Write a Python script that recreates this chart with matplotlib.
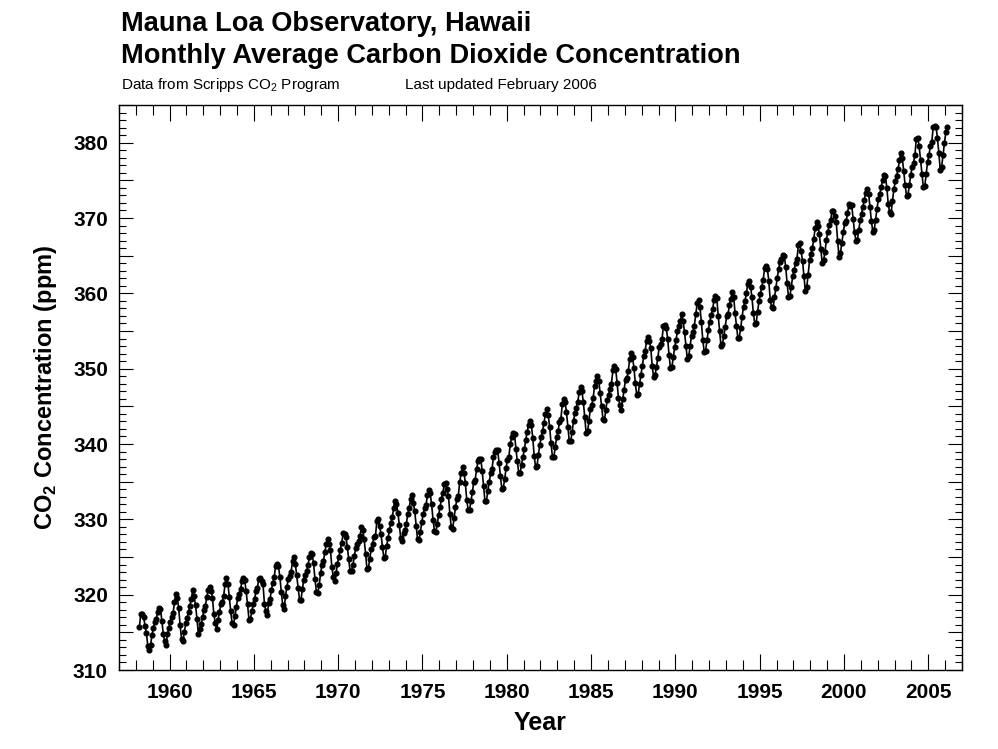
import matplotlib
matplotlib.use("Agg")
import matplotlib.pyplot as plt
from matplotlib import font_manager
from matplotlib.ticker import MultipleLocator, FuncFormatter
import numpy as np

# ---------------- data ----------------
first_year = 1958
first_month = 3  # March 1958
co2_monthly = [
    315.71, 317.45, 317.50, 317.10, 315.86, 314.93, 313.20, 312.66, 313.33, 314.67,  # 1958 (Mar-Dec)
    315.62, 316.38, 316.71, 317.72, 318.29, 318.15, 316.54, 314.80, 313.84, 313.26, 314.80, 315.58,  # 1959
    316.43, 316.97, 317.58, 319.02, 320.03, 319.59, 318.18, 315.91, 314.16, 313.83, 315.00, 316.19,  # 1960
    316.93, 317.70, 318.54, 319.48, 320.58, 319.77, 318.57, 316.79, 314.80, 315.38, 316.10, 317.01,  # 1961
    317.94, 318.56, 319.68, 320.63, 321.01, 320.55, 319.58, 317.40, 316.26, 315.42, 316.69, 317.69,  # 1962
    318.74, 319.08, 319.86, 321.39, 322.25, 321.47, 319.74, 317.77, 316.21, 315.99, 317.12, 318.31,  # 1963
    319.57, 320.07, 320.73, 321.77, 322.25, 321.89, 320.44, 318.70, 316.70, 316.79, 317.79, 318.71,  # 1964
    319.44, 320.44, 320.89, 322.13, 322.16, 321.87, 321.39, 318.81, 317.81, 317.30, 318.87, 319.42,  # 1965
    320.62, 321.59, 322.39, 323.87, 324.01, 323.75, 322.39, 320.37, 318.64, 318.10, 319.79, 321.08,  # 1966
    322.07, 322.50, 323.04, 324.42, 325.00, 324.09, 322.55, 320.92, 319.31, 319.31, 320.72, 321.96,  # 1967
    322.57, 323.15, 323.89, 325.02, 325.57, 325.36, 324.14, 322.03, 320.41, 320.25, 321.31, 322.84,  # 1968
    324.00, 324.42, 325.64, 326.66, 327.38, 326.70, 325.89, 323.67, 322.38, 321.78, 322.85, 324.11,  # 1969
    325.03, 325.99, 326.87, 328.13, 328.07, 327.66, 326.35, 324.69, 323.10, 323.16, 323.98, 325.13,  # 1970
    326.17, 326.68, 327.18, 327.78, 328.92, 328.57, 327.34, 325.46, 323.36, 323.57, 324.80, 326.01,  # 1971
    326.77, 327.63, 327.75, 329.72, 330.07, 329.09, 328.05, 326.32, 324.93, 325.06, 326.50, 327.55,  # 1972
    328.54, 329.56, 330.30, 331.50, 332.48, 332.07, 330.87, 329.31, 327.51, 327.18, 328.16, 328.64,  # 1973
    329.35, 330.71, 331.48, 332.65, 333.19, 332.20, 331.07, 329.15, 327.33, 327.28, 328.31, 329.58,  # 1974
    330.73, 331.46, 331.90, 333.17, 333.94, 333.45, 331.97, 329.95, 328.50, 328.34, 329.37, 330.58,  # 1975
    331.59, 332.75, 333.52, 334.64, 334.77, 334.00, 333.06, 330.68, 328.95, 328.75, 330.15, 331.62,  # 1976
    332.66, 333.13, 334.95, 336.13, 336.93, 336.17, 334.88, 332.56, 331.29, 331.27, 332.41, 333.60,  # 1977
    334.95, 335.25, 336.66, 337.69, 338.03, 338.01, 336.41, 334.41, 332.37, 332.41, 333.75, 334.90,  # 1978
    336.14, 336.69, 338.27, 338.95, 339.21, 339.26, 337.54, 335.75, 333.98, 334.19, 335.31, 336.81,  # 1979
    337.90, 338.34, 340.01, 340.93, 341.48, 341.33, 339.40, 337.70, 336.19, 336.15, 337.27, 338.32,  # 1980
    339.29, 340.55, 341.61, 342.53, 343.03, 342.54, 340.78, 338.44, 336.95, 337.08, 338.58, 339.88,  # 1981
    340.96, 341.73, 342.81, 343.97, 344.63, 343.79, 342.32, 340.09, 338.28, 338.29, 339.60, 340.90,  # 1982
    341.68, 342.90, 343.33, 345.25, 346.03, 345.63, 344.19, 342.27, 340.35, 340.38, 341.59, 343.05,  # 1983
    344.10, 344.79, 345.52, 346.84, 347.63, 346.98, 345.53, 343.55, 341.40, 341.67, 343.10, 344.70,  # 1984
    345.21, 346.16, 347.74, 348.34, 349.06, 348.38, 346.71, 345.02, 343.27, 343.13, 344.49, 345.88,  # 1985
    346.56, 347.28, 348.01, 349.77, 350.38, 349.93, 348.16, 346.08, 345.22, 344.51, 345.93, 347.22,  # 1986
    348.52, 348.73, 349.73, 351.31, 352.09, 351.53, 350.11, 348.08, 346.52, 346.59, 347.96, 349.16,  # 1987
    350.39, 351.64, 352.40, 353.69, 354.21, 353.72, 352.69, 350.40, 348.92, 349.13, 350.20, 351.41,  # 1988
    352.91, 353.27, 353.96, 355.64, 355.86, 355.37, 353.99, 351.81, 350.05, 350.25, 351.49, 352.85,  # 1989
    353.80, 355.04, 355.73, 356.32, 357.32, 356.34, 354.84, 353.01, 351.31, 351.62, 353.07, 354.33,  # 1990
    354.84, 355.73, 357.23, 358.66, 359.13, 358.13, 356.19, 353.85, 352.25, 352.35, 353.81, 355.12,  # 1991
    356.25, 357.11, 357.86, 359.09, 359.59, 359.33, 357.01, 354.94, 352.96, 353.32, 354.32, 355.57,  # 1992
    357.00, 357.31, 358.47, 359.27, 360.19, 359.52, 357.33, 355.64, 354.03, 354.12, 355.41, 356.91,  # 1993
    358.24, 358.92, 359.99, 361.23, 361.65, 360.90, 359.46, 357.37, 355.98, 356.07, 357.53, 358.98,  # 1994
    359.92, 360.86, 361.83, 363.30, 363.69, 363.19, 361.64, 359.12, 358.17, 357.99, 359.45, 360.68,  # 1995
    362.07, 363.24, 364.17, 364.57, 365.13, 364.92, 363.55, 361.38, 359.54, 359.58, 360.89, 362.24,  # 1996
    363.09, 364.03, 364.51, 366.35, 366.64, 365.59, 364.31, 362.25, 360.29, 360.82, 362.49, 364.38,  # 1997
    365.26, 365.98, 367.24, 368.66, 369.42, 368.99, 367.82, 365.95, 364.02, 364.40, 365.52, 367.13,  # 1998
    368.18, 369.07, 369.68, 370.99, 370.96, 370.30, 369.45, 366.90, 364.81, 365.37, 366.72, 368.10,  # 1999
    369.29, 369.55, 370.60, 371.82, 371.58, 371.70, 369.86, 368.13, 367.00, 367.03, 368.37, 369.67,  # 2000
    370.59, 371.51, 372.43, 373.37, 373.85, 373.21, 371.51, 369.61, 368.18, 368.45, 369.76, 371.24,  # 2001
    372.53, 373.20, 374.12, 375.02, 375.76, 375.52, 374.01, 371.85, 370.75, 370.55, 372.25, 373.79,  # 2002
    374.88, 375.64, 376.45, 377.73, 378.60, 377.93, 376.28, 374.41, 372.98, 373.00, 374.35, 375.69,  # 2003
    376.79, 377.36, 378.39, 380.50, 380.62, 379.55, 377.76, 375.83, 374.05, 374.22, 375.84, 377.44,  # 2004
    378.34, 379.61, 380.08, 382.05, 382.24, 382.08, 380.67, 378.67, 376.42, 376.80, 378.31, 379.96,  # 2005
    381.37, 382.02,  # 2006 (Jan-Feb)
]
x_major_ticks = [1960, 1965, 1970, 1975, 1980, 1985, 1990, 1995, 2000, 2005]
y_tick_labels = [310, 320, 330, 340, 350, 360, 370, 380]

# decimal dates at mid-month
month_index = np.arange(len(co2_monthly)) + (first_month - 1)
dates = first_year + (month_index + 0.5) / 12.0

# ---------------- fonts ----------------
names = {f.name for f in font_manager.fontManager.ttflist}
main_font = "Liberation Sans" if "Liberation Sans" in names else "DejaVu Sans"
narrow_font = "Liberation Sans Narrow" if "Liberation Sans Narrow" in names else main_font

plt.rcParams["font.family"] = [main_font, "DejaVu Sans"]
plt.rcParams["mathtext.fontset"] = "custom"
plt.rcParams["mathtext.rm"] = narrow_font
plt.rcParams["mathtext.bf"] = main_font + ":bold"

fig = plt.figure(figsize=(9.98, 7.49), dpi=100)
ax = fig.add_axes([119 / 998, 1 - 670 / 749, (962 - 119) / 998, (670 - 105) / 749])

ax.plot(dates, co2_monthly, color="black", lw=1.2, marker="o", ms=3.4,
        markerfacecolor="black", markeredgecolor="black")

ax.set_xlim(1957, 2007)
ax.set_ylim(310, 385)

ax.xaxis.set_major_locator(MultipleLocator(5))
ax.xaxis.set_minor_locator(MultipleLocator(1))
ax.yaxis.set_major_locator(MultipleLocator(5))
ax.yaxis.set_minor_locator(MultipleLocator(1))
ax.yaxis.set_major_formatter(FuncFormatter(lambda v, p: f"{int(round(v))}" if int(round(v)) in y_tick_labels else ""))
ax.xaxis.set_major_formatter(FuncFormatter(lambda v, p: f"{int(round(v))}" if int(round(v)) in x_major_ticks else ""))

ax.tick_params(axis="both", which="both", direction="in", top=True, right=True, width=0.8, color="black")
ax.tick_params(axis="x", which="major", length=11.5, pad=9)
ax.tick_params(axis="x", which="minor", length=7.5)
ax.tick_params(axis="y", which="major", length=10, pad=8)
ax.tick_params(axis="y", which="minor", length=5)
for lab in ax.get_xticklabels() + ax.get_yticklabels():
    lab.set_fontweight("bold")
    lab.set_fontsize(15)
for s in ax.spines.values():
    s.set_linewidth(1.0)

ax.set_xlabel("Year", fontsize=18, fontweight="bold", labelpad=7)
ax.set_ylabel(r"CO$_\mathbf{2}$ Concentration (ppm)", fontsize=17, fontweight="bold", labelpad=10)

fig.text(121 / 998, 1 - 31 / 749, "Mauna Loa Observatory, Hawaii", fontsize=19.6, fontweight="bold",
         ha="left", va="baseline")
fig.text(121 / 998, 1 - 63 / 749, "Monthly Average Carbon Dioxide Concentration", fontsize=19.6,
         fontweight="bold", ha="left", va="baseline")
fig.text(121 / 998, 1 - 89 / 749, r"Data from Scripps CO$_\mathrm{2}$ Program", fontsize=11,
         family=[narrow_font, "DejaVu Sans"], ha="left", va="baseline")
fig.text(405 / 998, 1 - 89 / 749, "Last updated February 2006", fontsize=11,
         family=[narrow_font, "DejaVu Sans"], ha="left", va="baseline")

fig.savefig("out.png", dpi=100)
